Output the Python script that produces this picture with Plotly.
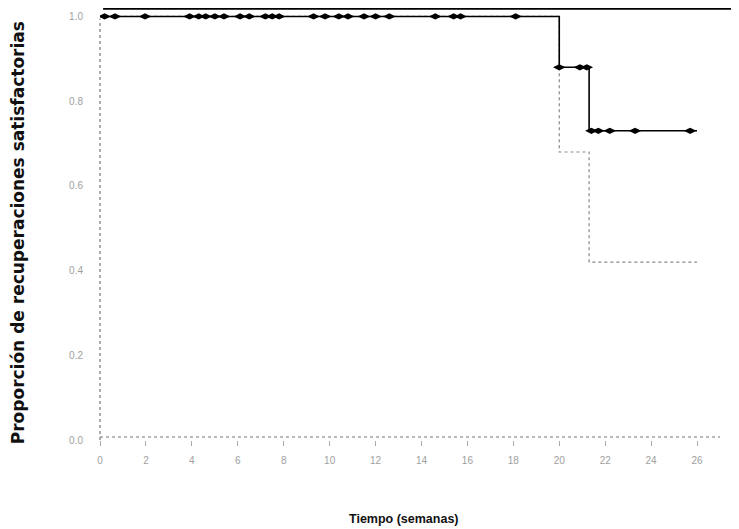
import plotly.graph_objects as go

# Kaplan-Meier step curve (weeks, proportion)
step_times = [0, 20.0, 21.3, 26.0]
step_surv = [1.0, 0.88, 0.73, 0.73]
lower_ci = [1.0, 0.68, 0.42, 0.42]

# censored observations
cens_t_100 = [0.2, 0.65, 1.96, 3.9, 4.3, 4.6, 5.0, 5.4, 6.1, 6.5, 7.2, 7.5, 7.8,
              9.3, 9.8, 10.4, 10.8, 11.5, 12.0, 12.6, 14.6, 15.4, 15.7, 18.1]
cens_s_100 = [1.0] * len(cens_t_100)
cens_t_088 = [20.0, 20.9, 21.2]
cens_s_088 = [0.88] * len(cens_t_088)
cens_t_073 = [21.4, 21.7, 22.2, 23.3, 25.7]
cens_s_073 = [0.73] * len(cens_t_073)

x_ticks = [0, 2, 4, 6, 8, 10, 12, 14, 16, 18, 20, 22, 24, 26]
y_ticks = [0.0, 0.2, 0.4, 0.6, 0.8, 1.0]

fig = go.Figure()

fig.add_trace(go.Scatter(x=step_times, y=lower_ci, mode="lines", line_shape="hv",
                         line=dict(color="#888888", width=1.2, dash="dot"),
                         showlegend=False, hoverinfo="skip"))
fig.add_trace(go.Scatter(x=step_times, y=step_surv, mode="lines", line_shape="hv",
                         line=dict(color="black", width=1.6),
                         showlegend=False))
for tx, sy in [(cens_t_100, cens_s_100), (cens_t_088, cens_s_088), (cens_t_073, cens_s_073)]:
    fig.add_trace(go.Scatter(x=tx, y=sy, mode="markers",
                             marker=dict(symbol="diamond-wide", size=9, color="black"),
                             showlegend=False))

# top border line
fig.add_shape(type="line", xref="paper", yref="y", x0=0.005, x1=1.03, y0=1.018, y1=1.018,
              line=dict(color="black", width=2))
# dotted axis lines
fig.add_shape(type="line", xref="paper", yref="paper", x0=0, x1=0, y0=0, y1=0.975,
              line=dict(color="#777777", width=1.2, dash="dot"))
fig.add_shape(type="line", xref="paper", yref="paper", x0=0, x1=1, y0=0.007, y1=0.007,
              line=dict(color="#777777", width=1.2, dash="dot"))

fig.add_annotation(text="<b>Proporción de recuperaciones satisfactorias</b>",
                   xref="paper", yref="paper", x=-0.132, y=0.479, textangle=-90,
                   xanchor="center", yanchor="middle",
                   showarrow=False,
                   font=dict(family="DejaVu Sans, sans-serif", size=17, color="#111111"))
fig.add_annotation(text="<b>Tiempo (semanas)</b>",
                   xref="paper", yref="paper", x=0.49, y=-0.183,
                   xanchor="center", yanchor="middle",
                   showarrow=False, font=dict(size=12.5, color="#111111"))

fig.update_layout(
    width=731, height=521,
    margin=dict(l=92, r=19, t=0, b=89),
    plot_bgcolor="white", paper_bgcolor="white",
    font=dict(family="Liberation Sans, Arial, sans-serif"),
    xaxis=dict(range=[0, 27], tickvals=x_ticks, showgrid=False, zeroline=False,
               showline=False, automargin=False,
               ticks="outside", ticklen=5, tickcolor="#aaaaaa",
               ticklabelstandoff=6,
               tickfont=dict(size=10, color="#a0a0a0")),
    yaxis=dict(range=[0, 1.02], tickvals=y_ticks, tickformat=".1f", showgrid=False,
               zeroline=False, showline=False, automargin=False,
               ticks="", ticklabelstandoff=16,
               tickfont=dict(size=10, color="#a0a0a0")),
)

fig.write_html("out.html")
